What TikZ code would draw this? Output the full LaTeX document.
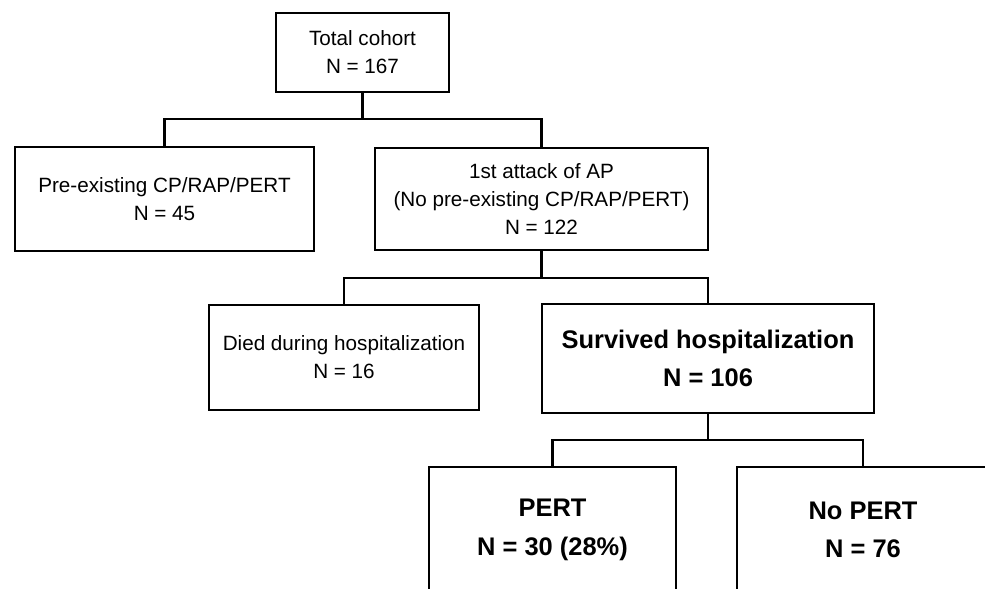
\documentclass[tikz,border=0pt]{standalone}
\usepackage{fontspec}
\setmainfont{Liberation Sans}
\usepackage{tikz}

\begin{document}
\begin{tikzpicture}[x=0.025cm, y=-0.025cm,
    box/.style={draw, line width=2.1pt, inner sep=0pt, outer sep=0pt, align=center,
        font=\fontsize{14.7}{19.8}\selectfont},
    bigbox/.style={box, font=\bfseries\fontsize{18.1}{27.5}\selectfont},
    link/.style={line width=2.1pt}]
    % Page
    \clip (0,0) rectangle (985,588);
    \fill[white] (0,0) rectangle (985,588);

    % Boxes
    \node[box, minimum width=173*0.025cm, minimum height=79*0.025cm] (total) at (362.5,52.5)
        {Total cohort\\N = 167};
    \node[box, minimum width=299*0.025cm, minimum height=104*0.025cm] (pre) at (164.5,199)
        {Pre-existing CP/RAP/PERT\\N = 45};
    \node[box, minimum width=333*0.025cm, minimum height=102*0.025cm] (attack) at (541.5,199)
        {1st attack of AP\\(No pre-existing CP/RAP/PERT)\\N = 122};
    \node[box, minimum width=270*0.025cm, minimum height=105*0.025cm] (died) at (344,357.5)
        {Died during hospitalization\\N = 16};
    \node[bigbox, minimum width=332*0.025cm, minimum height=109*0.025cm] (surv) at (708,358.5)
        {Survived hospitalization\\N = 106};
    \node[bigbox, minimum width=247*0.025cm, minimum height=126*0.025cm] (pert) at (552.5,530)
        {PERT\\N = 30 (28\%)};
    \node[bigbox, minimum width=252*0.025cm, minimum height=126*0.025cm] (nopert) at (863,530)
        {No PERT\\N = 76};

    % Junctions
    \coordinate (j1) at (362.5,119);
    \coordinate (j2) at (541.5,278);
    \coordinate (j3) at (708,440);

    % Connectors
    \draw[link] (total.south) -- (j1);
    \draw[link] (pre.north) |- (j1) -| (attack.north);
    \draw[link] (attack.south) -- (j2);
    \draw[link] (died.north) |- (j2) -| (surv.north);
    \draw[link] (surv.south) -- (j3);
    \draw[link] (pert.north) |- (j3) -| (nopert.north);
\end{tikzpicture}
\end{document}
